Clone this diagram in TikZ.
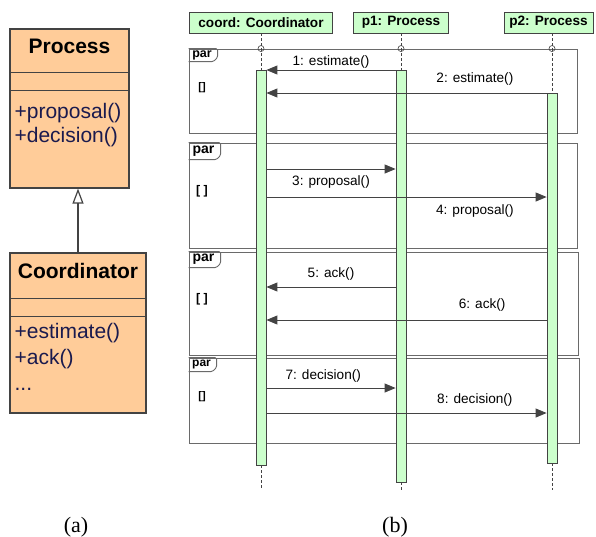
\documentclass[tikz,border=0pt]{standalone}
\usepackage{fontspec}
\setmainfont{Liberation Serif}
\setsansfont{Liberation Sans}
\usetikzlibrary{arrows.meta,positioning}
\definecolor{clsfill}{HTML}{FFCC99}
\definecolor{lifefill}{HTML}{CCFFCC}
\definecolor{ln}{HTML}{434343}
\definecolor{frm}{HTML}{6A6A6A}
\definecolor{opc}{HTML}{1A1A4E}
\newcommand{\partab}[4]{%
  \draw[tabshape] (#1.north west) -- ++(#2,0) -- ++(0,{#3-4}) -- ++(-4,4) -- ++({4-#2},0);
  \node[font=\sffamily\bfseries\fontsize{#4}{#4}\selectfont,inner sep=0pt] (#1par)
    at ([shift={({#2/2-1},{#3/2})}]#1.north west) {par};}

\begin{document}
\begin{tikzpicture}[x=1pt,y=-1pt,font=\sffamily,
  cls/.style={draw=ln,line width=1.2pt,fill=clsfill,inner sep=0pt},
  divider/.style={draw=ln,line width=1.2pt},
  ctitle/.style={font=\sffamily\bfseries\fontsize{21}{24}\selectfont},
  op/.style={anchor=west,inner sep=0pt,text height=15pt,text depth=4.5pt,text=opc,
    font=\sffamily\fontsize{21}{24}\selectfont},
  inh/.style={-{Triangle[open,length=15pt,width=11pt]},draw=ln,line width=1.2pt},
  head/.style={draw=ln,line width=0.8pt,fill=lifefill,minimum height=21pt,inner sep=0pt,
    font=\sffamily\bfseries\fontsize{13.6}{16}\selectfont},
  fragment/.style={draw=frm,line width=0.9pt,inner sep=0pt},
  tabshape/.style={draw=frm,line width=0.9pt,rounded corners=1.5pt},
  act/.style={draw=ln,line width=0.8pt,fill=lifefill,minimum width=10pt,inner sep=0pt},
  lifeline/.style={draw=ln,densely dashed,line width=0.6pt},
  ring/.style={circle,draw=ln,line width=0.6pt,minimum size=6pt,inner sep=0pt},
  msg/.style={-{Triangle[length=11pt,width=9pt]},draw=ln,line width=0.9pt},
  lbl/.style={inner sep=1pt,font=\sffamily\fontsize{13.6}{16}\selectfont},
  guard/.style={inner sep=0pt},
  subcap/.style={font=\rmfamily\fontsize{22}{24}\selectfont}]
  \useasboundingbox (0,0) rectangle (596,536);

  \node[cls,minimum width=119pt,minimum height=159pt] (proc) at (69.5,108.5) {};
  \draw[divider] ([yshift=-44pt]proc.north west) -- ([yshift=-44pt]proc.north east);
  \draw[divider] ([yshift=-62pt]proc.north west) -- ([yshift=-62pt]proc.north east);
  \node[ctitle] (procname) at ([yshift=-18pt]proc.north) {Process};
  \node[op] (procop1) at ([shift={(5,85)}]proc.north west) {+proposal()};
  \node[op] (procop2) at ([shift={(5,108.5)}]proc.north west) {+decision()};

  \node[cls,minimum width=136pt,minimum height=160pt] (coordcls) at (78,333) {};
  \draw[divider] ([yshift=-46pt]coordcls.north west) -- ([yshift=-46pt]coordcls.north east);
  \draw[divider] ([yshift=-64pt]coordcls.north west) -- ([yshift=-64pt]coordcls.north east);
  \node[ctitle] (coordname) at ([yshift=-19pt]coordcls.north) {Coordinator};
  \node[op] (coordop1) at ([shift={(5,80.7)}]coordcls.north west) {+estimate()};
  \node[op] (coordop2) at ([shift={(5,107)}]coordcls.north west) {+ack()};
  \node[op] (coordop3) at ([shift={(5,133.3)}]coordcls.north west) {...};
  \draw[inh] (coordcls.north) -- (coordcls.north |- proc.south);

  \node[head,minimum width=143pt] (coord) at (261,22.5) {coord: Coordinator};
  \node[head,minimum width=95pt] (p1) at (401,22.5) {p1: Process};
  \node[head,minimum width=89pt] (p2) at (548.5,22.5) {p2: Process};

  \node[fragment,minimum width=388pt,minimum height=84pt] (f1) at (383,91) {};
  \node[fragment,minimum width=388pt,minimum height=105pt] (f2) at (383,195.5) {};
  \node[fragment,minimum width=389pt,minimum height=103pt] (f3) at (383.5,303.5) {};
  \node[fragment,minimum width=390pt,minimum height=85pt] (f4) at (384,400.5) {};
  \partab{f1}{29}{13}{12.5}
  \partab{f2}{32}{17}{14}
  \partab{f3}{32}{16}{14}
  \partab{f4}{28}{14}{12}
  \node[guard,font=\sffamily\bfseries\fontsize{11}{12}\selectfont] (g1) at (202,88) {[]};
  \node[guard,font=\sffamily\bfseries\fontsize{12.5}{13}\selectfont] (g2) at (202,191) {[ ]};
  \node[guard,font=\sffamily\bfseries\fontsize{12.5}{13}\selectfont] (g3) at (202,299) {[ ]};
  \node[guard,font=\sffamily\bfseries\fontsize{11}{12}\selectfont] (g4) at (202,397) {[]};

  \node[act,minimum height=395pt] (aC) at (261,267.5) {};
  \node[act,minimum height=412pt] (aP1) at (401,276) {};
  \node[act,minimum height=370pt] (aP2) at (552,278) {};
  \coordinate (bot) at (0,490);
  \draw[lifeline] (coord.south) -- (aC.north);
  \draw[lifeline] (p1.south) -- (aP1.north);
  \draw[lifeline] (aP2.north |- p2.south) -- (aP2.north);
  \draw[lifeline] (aC.south) -- (aC.south |- bot);
  \draw[lifeline] (aP1.south) -- (aP1.south |- bot);
  \draw[lifeline] (aP2.south) -- (aP2.south |- bot);
  \node[ring] (rC) at (aC.north |- f1.north) {};
  \node[ring] (rP1) at (aP1.north |- f1.north) {};
  \node[ring] (rP2) at (aP2.north |- f1.north) {};

  \coordinate (y1) at (0,70);
  \coordinate (y2) at (0,93);
  \coordinate (y3) at (0,169);
  \coordinate (y4) at (0,197);
  \coordinate (y5) at (0,287);
  \coordinate (y6) at (0,320);
  \coordinate (y7) at (0,388);
  \coordinate (y8) at (0,413);
  \draw[msg] (aP1.west |- y1) -- node[lbl,above=0.5pt] (l1) {1: estimate()} (aC.east |- y1);
  \draw[msg] (aP2.west |- y2) -- node[lbl,pos=0.256,above=6pt] (l2) {2: estimate()} (aC.east |- y2);
  \draw[msg] (aC.east |- y3) -- node[lbl,below=5pt] (l3) {3: proposal()} (aP1.west |- y3);
  \draw[msg] (aC.east |- y4) -- node[lbl,pos=0.744,below=6pt] (l4) {4: proposal()} (aP2.west |- y4);
  \draw[msg] (aP1.west |- y5) -- node[lbl,above=5pt] (l5) {5: ack()} (aC.east |- y5);
  \draw[msg] (aP2.west |- y6) -- node[lbl,pos=0.23,above=7pt] (l6) {6: ack()} (aC.east |- y6);
  \draw[msg] (aC.east |- y7) -- node[lbl,pos=0.44,above=4pt] (l7) {7: decision()} (aP1.west |- y7);
  \draw[msg] (aC.east |- y8) -- node[lbl,pos=0.744,above=5pt] (l8) {8: decision()} (aP2.west |- y8);

  \node[subcap] (capa) at (76,527) {(a)};
  \node[subcap] (capb) at (395,527) {(b)};
\end{tikzpicture}
\end{document}
